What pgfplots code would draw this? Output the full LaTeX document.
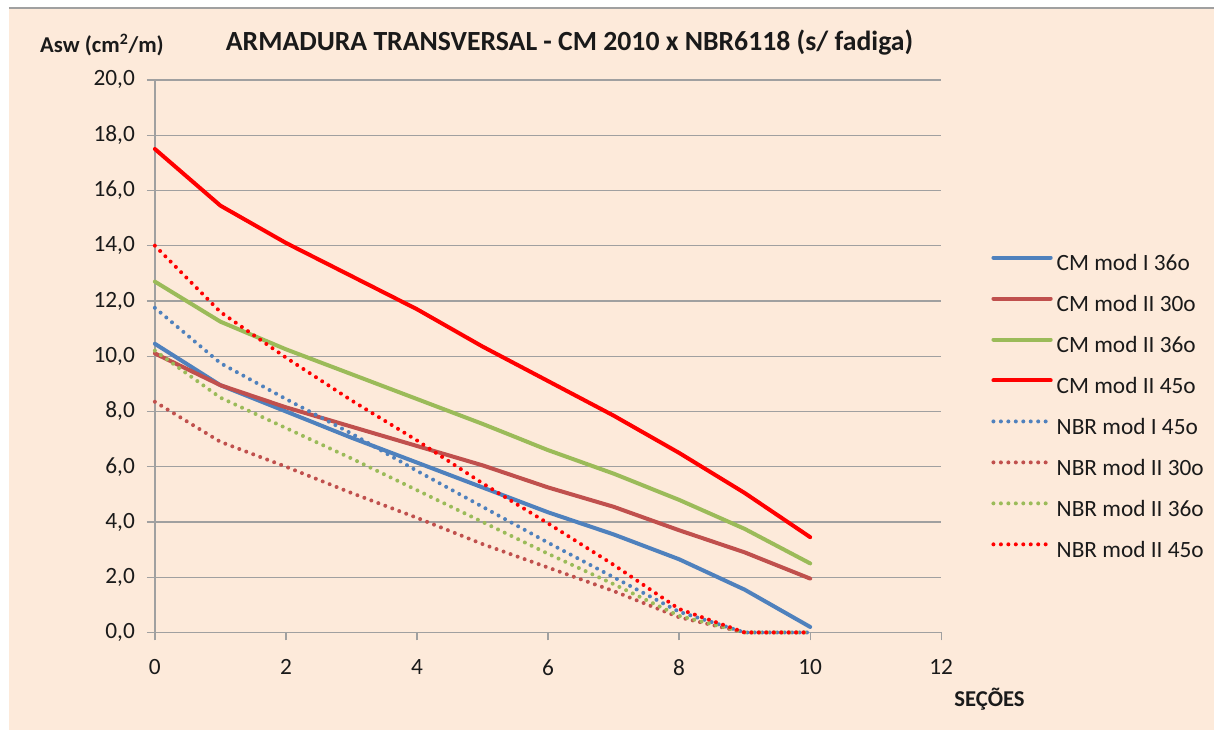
\documentclass[border=0pt]{standalone}
\usepackage{fontspec}
\setmainfont{Carlito}
\usepackage{pgfplots}
\pgfplotsset{compat=1.18}
\definecolor{bg}{HTML}{FDEADA}
\definecolor{cblue}{HTML}{4F81BD}
\definecolor{cbrown}{HTML}{C0504D}
\definecolor{cgreen}{HTML}{9BBB59}
\definecolor{cred}{HTML}{FF0000}
\definecolor{gridc}{HTML}{A0A0A0}
\definecolor{txt}{HTML}{1A1A1A}
\pgfplotsset{
  solidline/.style={line width=3pt, line join=round, line cap=round},
  dotline/.style={line width=3pt, line cap=round, dash pattern=on 0pt off 5.6pt},
}
\begin{document}
\begin{tikzpicture}
\begin{scope}[x=0.75pt,y=0.75pt]
\fill[white] (0,0) rectangle (1215,731);
\fill[bg] (9,0) rectangle (1215,723);
\draw[gridc, line width=1.5pt] (9,723) -- (1215,723);
\useasboundingbox (0,0) rectangle (1215,731);
\node[font=\fontsize{20.8}{24}\selectfont\bfseries, text=txt] at (570,688) {ARMADURA TRANSVERSAL - CM 2010 x NBR6118 (s/ fadiga)};
\node[font=\fontsize{17}{20}\selectfont\bfseries, anchor=west, inner sep=0pt, text=txt] at (40,686) {Asw (cm\textsuperscript{2}/m)};
\node[font=\fontsize{17}{20}\selectfont\bfseries, anchor=west, inner sep=0pt, text=txt] at (955,31) {SEÇÕES};
\end{scope}
\begin{axis}[
  at={(116.25pt,73.5pt)}, anchor=south west,
  scale only axis, width=590.25pt, height=414.75pt,
  xmin=0, xmax=12, ymin=0, ymax=20,
  xtick={0,2,...,12}, ytick={0,2,...,20},
  axis lines=left, axis line style={-, draw=gridc, line width=1pt},
  tick align=outside, major tick length=6pt,
  tick style={draw=gridc, line width=1pt},
  xtick pos=bottom, ytick pos=left,
  ymajorgrids, grid style={draw=gridc, line width=1pt},
  /pgf/number format/assume math mode=true,
  tick label style={font=\fontsize{17.5}{20}\selectfont, text=txt},
  yticklabel style={/pgf/number format/.cd, fixed, fixed zerofill, precision=1, use comma, /tikz/.cd, xshift=-5.5pt},
  xticklabel style={yshift=-11pt},
  clip=false,
  legend cell align=left,
  legend image code/.code={\draw[#1] (0pt,5.5pt) -- (43pt,5.5pt);},
  legend style={at={(1.0635,0.6844)}, anchor=north west, draw=none, fill=none,
    font=\fontsize{17.5}{20}\selectfont, text=txt, row sep=15.25pt, inner sep=0pt,
    nodes={inner sep=0pt, text height=12pt, text depth=3.5pt},
    column sep=3pt},
]
\addplot[cblue, solidline] coordinates {(0,10.45)(1,8.95)(2,8.0)(3,7.05)(4,6.15)(5,5.25)(6,4.35)(7,3.55)(8,2.65)(9,1.55)(10,0.2)};
\addlegendentry{CM mod I 36o}
\addplot[cbrown, solidline] coordinates {(0,10.1)(1,8.95)(2,8.15)(3,7.45)(4,6.75)(5,6.05)(6,5.25)(7,4.55)(8,3.7)(9,2.9)(10,1.95)};
\addlegendentry{CM mod II 30o}
\addplot[cgreen, solidline] coordinates {(0,12.7)(1,11.25)(2,10.25)(3,9.35)(4,8.45)(5,7.55)(6,6.6)(7,5.75)(8,4.8)(9,3.75)(10,2.5)};
\addlegendentry{CM mod II 36o}
\addplot[cred, solidline] coordinates {(0,17.5)(1,15.45)(2,14.1)(3,12.9)(4,11.7)(5,10.35)(6,9.1)(7,7.85)(8,6.5)(9,5.05)(10,3.45)};
\addlegendentry{CM mod II 45o}
\addplot[cblue, dotline] coordinates {(0,11.75)(1,9.75)(2,8.45)(3,7.2)(4,5.85)(5,4.55)(6,3.25)(7,2.0)(8,0.75)(9,0)(10,0)};
\addlegendentry{NBR mod I 45o}
\addplot[cbrown, dotline] coordinates {(0,8.35)(1,6.9)(2,6.0)(3,5.05)(4,4.15)(5,3.2)(6,2.35)(7,1.5)(8,0.55)(9,0)(10,0)};
\addlegendentry{NBR mod II 30o}
\addplot[cgreen, dotline] coordinates {(0,10.2)(1,8.5)(2,7.4)(3,6.3)(4,5.15)(5,4.0)(6,2.85)(7,1.75)(8,0.6)(9,0)(10,0)};
\addlegendentry{NBR mod II 36o}
\addplot[cred, dotline] coordinates {(0,14.0)(1,11.6)(2,9.95)(3,8.4)(4,6.95)(5,5.4)(6,3.95)(7,2.45)(8,0.85)(9,0)(10,0)};
\addlegendentry{NBR mod II 45o}
\end{axis}
\end{tikzpicture}
\end{document}
